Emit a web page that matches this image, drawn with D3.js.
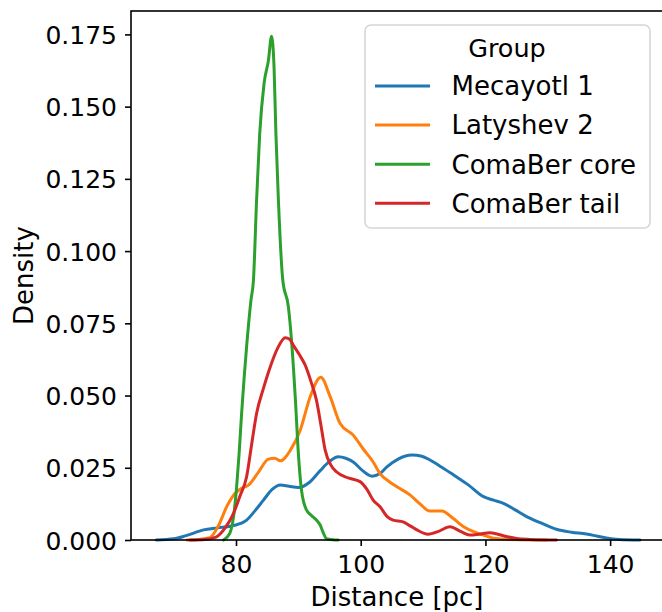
<!DOCTYPE html>
<html>
<head>
<meta charset="utf-8">
<script src="https://cdn.jsdelivr.net/npm/d3@7/dist/d3.min.js"></script>
<style>
  html, body { margin: 0; padding: 0; background: #fff; }
  svg { display: block; font-family: "DejaVu Sans", sans-serif; }
</style>
</head>
<body>
<svg id="chart" width="662" height="612"></svg>
<script>
// Kernel density curves of distance per group: [distance (pc), density]
const groups = ["Mecayotl 1", "Latyshev 2", "ComaBer core", "ComaBer tail"];
const colors = ["#1f77b4", "#ff7f0e", "#2ca02c", "#d62728"];

const mecayotl1 = [[67.2,0],[70,0.0004],[72,0.0015],[74.8,0.0035],[77,0.0042],[79.6,0.0050],[81.7,0.0069],[83,0.0100],[84.4,0.0138],[85.8,0.0175],[87.1,0.019],[88.5,0.0186],[90,0.0182],[91.8,0.0200],[93.5,0.024],[95,0.0272],[96.4,0.0288],[97.6,0.0283],[98.8,0.027],[100.3,0.0240],[101.8,0.0221],[103.1,0.023],[104.2,0.0253],[106,0.0280],[108.2,0.0294],[109.8,0.0290],[111.1,0.0277],[113,0.0252],[114.9,0.0225],[117.3,0.0190],[119.7,0.015],[121.3,0.0138],[122.9,0.0127],[124.7,0.0105],[126.6,0.0081],[129,0.0058],[131.4,0.0037],[133.8,0.0027],[136.2,0.0021],[138,0.0013],[139.4,0.0007],[141.5,0.0002],[144.8,0]];

const latyshev2 = [[72.1,0],[74,0.0002],[75.8,0.0008],[77.2,0.0050],[78.5,0.0115],[79.8,0.016],[81,0.0180],[82,0.019],[83.6,0.0235],[85.2,0.028],[86.2,0.0283],[87.1,0.0274],[88.7,0.031],[90.3,0.038],[91.9,0.0496],[93.6,0.0563],[95.1,0.0496],[96.7,0.0403],[98.8,0.0363],[100.4,0.0315],[102,0.027],[103.1,0.023],[104.7,0.0200],[105.8,0.0184],[107.9,0.0156],[109.5,0.0125],[111.1,0.01],[113,0.01],[114.8,0.0075],[116.5,0.0046],[118.2,0.0028],[119.7,0.0017],[121.3,0.0006],[124,0.0002],[129.8,0]];

const comaBerCore = [[78,0],[79,0.0023],[79.6,0.008],[80.1,0.0184],[80.5,0.030],[80.9,0.0438],[81.3,0.056],[81.7,0.0669],[82.4,0.083],[82.8,0.09],[83.3,0.1176],[83.8,0.1406],[84.5,0.158],[85.2,0.166],[85.7,0.1744],[86.1,0.1637],[86.4,0.1406],[86.8,0.1176],[87.5,0.09],[88.4,0.0807],[88.9,0.0692],[89.5,0.0495],[90,0.030],[90.5,0.0173],[91.3,0.0104],[92.1,0.0085],[92.9,0.0069],[93.5,0.0052],[94,0.0025],[94.5,0.0005],[95.5,0.0001],[96.4,0]];

const comaBerTail = [[72.6,0],[75,0.0002],[76.8,0.0010],[78.2,0.0040],[79.6,0.0092],[80.6,0.0150],[81.7,0.0219],[82.5,0.0330],[83.3,0.0438],[84.4,0.0525],[85.5,0.06],[86.7,0.0665],[87.9,0.070],[88.6,0.0695],[89.2,0.0674],[90.2,0.0640],[91.1,0.0605],[92,0.0550],[92.9,0.0484],[93.6,0.0400],[94.3,0.0311],[95.2,0.0260],[96.1,0.0236],[98,0.0215],[99.9,0.0202],[101,0.0175],[102,0.0138],[103.1,0.0115],[104.2,0.0082],[105.2,0.0069],[106.8,0.0063],[108,0.0048],[109,0.0035],[110.8,0.002],[112.5,0.0030],[114.3,0.0046],[116,0.0030],[117.5,0.0017],[119,0.0020],[120.7,0.0025],[122,0.0020],[123.4,0.0012],[125,0.0005],[127.1,0.0002],[131.4,0]];

const seriesValues = [mecayotl1, latyshev2, comaBerCore, comaBerTail];

const xTicks = [80, 100, 120, 140];
const yTicks = [0, 0.025, 0.05, 0.075, 0.1, 0.125, 0.15, 0.175];

// Layout
const plot = { left: 131, right: 665, top: 11, bottom: 540 };
const fontSize = 25;
const legendFont = 26;

const svg = d3.select("#chart");

const x = d3.scaleLinear().domain([63.16, 148.8]).range([plot.left, plot.right]);
const y = d3.scaleLinear().domain([0, 0.1831]).range([plot.bottom, plot.top]);

// Curves
const line = d3.line()
  .x(d => x(d[0]))
  .y(d => y(d[1]))
  .curve(d3.curveMonotoneX);

const curves = svg.append("g");
seriesValues.forEach((data, i) => {
  curves.append("path")
    .datum(data)
    .attr("d", line)
    .attr("fill", "none")
    .attr("stroke", colors[i])
    .attr("stroke-width", 3)
    .attr("stroke-linejoin", "round")
    .attr("stroke-linecap", "round");
});

// Axes
const xAxis = d3.axisBottom(x).tickValues(xTicks).tickSize(6).tickPadding(9)
  .tickFormat(d3.format("d"));
const yAxis = d3.axisLeft(y).tickValues(yTicks).tickSize(6).tickPadding(8)
  .tickFormat(d3.format(".3f"));

const gx = svg.append("g").attr("transform", `translate(0,${plot.bottom})`).call(xAxis);
const gy = svg.append("g").attr("transform", `translate(${plot.left},0)`).call(yAxis);

[gx, gy].forEach(g => {
  g.select(".domain").remove();
  g.selectAll(".tick line").attr("stroke", "#000").attr("stroke-width", 1.6);
  g.selectAll(".tick text")
    .attr("fill", "#000")
    .style("font-size", fontSize + "px")
    .style("font-family", "DejaVu Sans");
});
gx.selectAll(".tick text").attr("dy", "0.71em");
gy.selectAll(".tick text").attr("dy", "0.36em");

// Frame
svg.append("rect")
  .attr("x", plot.left).attr("y", plot.top)
  .attr("width", plot.right - plot.left).attr("height", plot.bottom - plot.top)
  .attr("fill", "none").attr("stroke", "#000").attr("stroke-width", 1.6);

// Axis labels
svg.append("text")
  .attr("x", (plot.left + plot.right) / 2 - 1)
  .attr("y", 606)
  .attr("text-anchor", "middle")
  .style("font-size", "26px")
  .text("Distance [pc]");

svg.append("text")
  .attr("transform", `translate(33,${(plot.top + plot.bottom) / 2}) rotate(-90)`)
  .attr("text-anchor", "middle")
  .style("font-size", "26px")
  .text("Density");

// Legend
const legend = svg.append("g");
legend.append("rect")
  .attr("x", 365).attr("y", 25)
  .attr("width", 285).attr("height", 203)
  .attr("rx", 6).attr("ry", 6)
  .attr("fill", "#fff").attr("fill-opacity", 0.8)
  .attr("stroke", "#d6d6d6").attr("stroke-width", 1.6);

legend.append("text")
  .attr("x", 507).attr("y", 56.5)
  .attr("text-anchor", "middle")
  .style("font-size", "25.5px")
  .text("Group");

groups.forEach((name, i) => {
  const cy = 86 + i * 39.1;
  legend.append("line")
    .attr("x1", 375).attr("x2", 430)
    .attr("y1", cy).attr("y2", cy)
    .attr("stroke", colors[i]).attr("stroke-width", 3);
  legend.append("text")
    .attr("x", 451.5).attr("y", cy)
    .attr("dy", "0.36em")
    .style("font-size", legendFont + "px")
    .text(name);
});
</script>
</body>
</html>
